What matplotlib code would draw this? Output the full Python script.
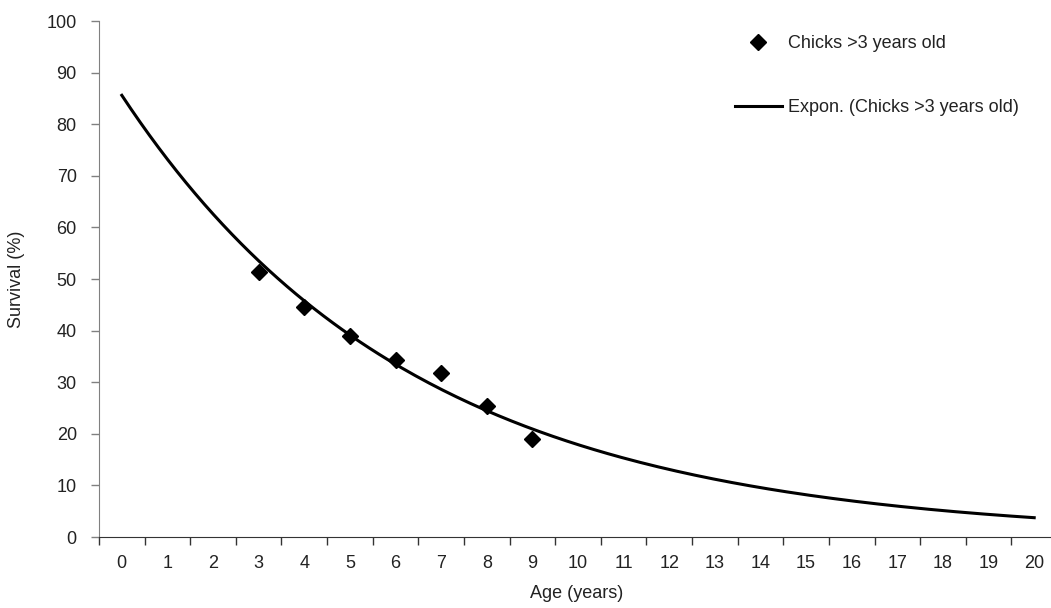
import matplotlib
matplotlib.use("Agg")
import matplotlib.pyplot as plt
import numpy as np
from matplotlib.ticker import FixedLocator

plt.rcParams["font.family"] = ["Liberation Sans", "DejaVu Sans"]

# categories on the x axis (Age, years)
ages = list(range(0, 21))
# observed survival points (%)
point_ages = [3, 4, 5, 6, 7, 8, 9]
survival = [51.4, 44.5, 39.0, 34.3, 31.7, 25.3, 19.0]
y_ticks = [0, 10, 20, 30, 40, 50, 60, 70, 80, 90, 100]
# exponential trendline y = a * exp(k * age), coefficients
trend_a = 85.6
trend_k = -0.1565

TEXT = "#222222"

trend_x = np.linspace(ages[0], ages[-1], 200)
trend_y = trend_a * np.exp(trend_k * trend_x)

fig = plt.figure(figsize=(10.51, 6.08), dpi=100)
ax = fig.add_axes([99 / 1051, 1 - 537 / 608, 958 / 1051, 516 / 608])

ax.plot(trend_x, trend_y, color="black", linewidth=2.2,
        label="Expon. (Chicks >3 years old)", zorder=2)
ax.plot(point_ages, survival, linestyle="none", marker="D", markersize=8,
        color="black", label="Chicks >3 years old", zorder=3)

ax.set_xlim(-0.5, 20.5)
ax.set_ylim(0, 100)

ax.set_xticks(ages)
ax.set_xticklabels([str(a) for a in ages])
ax.xaxis.set_minor_locator(FixedLocator([a - 0.5 for a in ages] + [20.5]))
ax.tick_params(axis="x", which="major", length=0, pad=13, labelsize=13, colors=TEXT)
ax.tick_params(axis="x", which="minor", length=6, width=1, color="#333333", direction="out")

ax.set_yticks(y_ticks)
ax.tick_params(axis="y", which="major", length=6, width=1, color="#808080",
               pad=10, labelsize=13, labelcolor=TEXT)

for side in ("top", "right"):
    ax.spines[side].set_visible(False)
ax.spines["left"].set_color("#808080")
ax.spines["bottom"].set_color("#333333")

fig.text(17 / 1051, 1 - 279 / 608, "Survival (%)", rotation=90, ha="center",
         va="center", fontsize=13, color=TEXT)
fig.text(577 / 1051, 1 - 593 / 608, "Age (years)", ha="center", va="center",
         fontsize=13, color=TEXT)

handles, labels = ax.get_legend_handles_labels()
leg = ax.legend(handles[::-1], labels[::-1], loc="upper left",
                bbox_to_anchor=(735 / 1051, 1 - 35 / 608), bbox_transform=fig.transFigure,
                frameon=False, fontsize=13, handlelength=2.6, handletextpad=0.35,
                labelspacing=2.6, borderpad=0, borderaxespad=0)
for t in leg.get_texts():
    t.set_color(TEXT)

fig.savefig("out.png", dpi=100)
